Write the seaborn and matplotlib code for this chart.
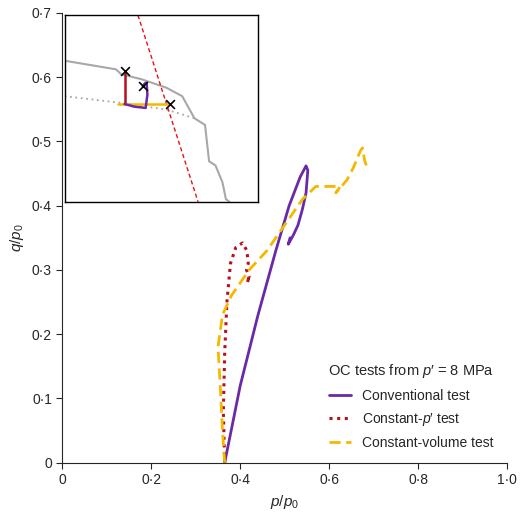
import matplotlib
matplotlib.use("Agg")
import matplotlib.pyplot as plt
import seaborn as sns
import pandas as pd

sns.set_style("ticks")
plt.rcParams['font.family'] = ['Liberation Sans', 'DejaVu Sans']
plt.rcParams['mathtext.fontset'] = 'custom'
plt.rcParams['mathtext.it'] = 'Liberation Sans:italic'
plt.rcParams['mathtext.rm'] = 'Liberation Sans'

conv_p = [0.365,0.40,0.44,0.48,0.51,0.535,0.548,0.552,0.548,0.540,0.530,0.520,0.512,0.508,0.512]
conv_q = [0.0,0.12,0.23,0.33,0.40,0.445,0.462,0.455,0.42,0.395,0.37,0.355,0.345,0.34,0.35]
cp_p = [0.365,0.362,0.365,0.370,0.378,0.390,0.405,0.415,0.418,0.414,0.420,0.416,0.420]
cp_q = [0.0,0.08,0.17,0.25,0.31,0.335,0.342,0.33,0.31,0.30,0.29,0.28,0.29]
cv_p = [0.365,0.360,0.355,0.350,0.360,0.380,0.420,0.460,0.500,0.540,0.570,0.600,0.625,0.615,0.640,0.655,0.670,0.675,0.680,0.685]
cv_q = [0.0,0.05,0.12,0.18,0.23,0.26,0.30,0.33,0.37,0.41,0.43,0.43,0.43,0.42,0.44,0.46,0.485,0.49,0.47,0.46]

# inset (normalised coordinates)
ys_u = [0,0.265,0.292,0.40,0.527,0.608,0.671,0.726,0.747,0.78,0.816,0.834,0.852]
ys_v = [0.756,0.71,0.684,0.656,0.611,0.566,0.448,0.412,0.217,0.195,0.105,0.014,0.0]
yd_u = [0,0.292,0.527,0.671]
yd_v = [0.566,0.53,0.494,0.448]
csl_u = [0.379,0.69]; csl_v = [1.0,0.0]
red_u = [0.31,0.31]; red_v = [0.524,0.70]
yel_u = [0.274,0.545]; yel_v = [0.526,0.526]
pur_u = [0.31,0.36,0.419,0.428,0.424,0.415,0.404]
pur_v = [0.524,0.51,0.503,0.575,0.638,0.635,0.62]
x_u = [0.31,0.404,0.545]; x_v = [0.70,0.62,0.526]

purple = '#6a2aa8'; red = '#b3121b'; yellow = '#f5b800'

fig, ax = plt.subplots(figsize=(5.2,5.17), dpi=100)
fig.subplots_adjust(left=0.12, right=0.975, top=0.975, bottom=0.105)
kw = dict(x='p', y='q', sort=False, estimator=None, ax=ax)
sns.lineplot(data=pd.DataFrame({'p':conv_p,'q':conv_q}), color=purple, lw=2, label='Conventional test', **kw)
sns.lineplot(data=pd.DataFrame({'p':cp_p,'q':cp_q}), color=red, lw=2.2, ls=(0,(1,1.5)), label="Constant-$p$′ test", **kw)
sns.lineplot(data=pd.DataFrame({'p':cv_p,'q':cv_q}), color=yellow, lw=2, ls=(0,(4,2)), label='Constant-volume test', **kw)
ax.set_xlim(0,1.0); ax.set_ylim(0,0.7)
xt = [0,0.2,0.4,0.6,0.8,1.0]; yt = [0,0.1,0.2,0.3,0.4,0.5,0.6,0.7]
ax.set_xticks(xt); ax.set_xticklabels(['0','0·2','0·4','0·6','0·8','1·0'])
ax.set_yticks(yt); ax.set_yticklabels(['0','0·1','0·2','0·3','0·4','0·5','0·6','0·7'])
ax.tick_params(labelsize=10, direction='out', length=4)
ax.set_xlabel('$p/p_0$', fontsize=11); ax.set_ylabel('$q/p_0$', fontsize=11)
ax.legend(title="OC tests from $p$′ = 8 MPa", frameon=False, loc='lower right', fontsize=10, title_fontsize=10.5, handlelength=1.6, labelspacing=0.6, bbox_to_anchor=(1.0,0.0))
sns.despine(ax=ax)

ins = ax.inset_axes([0.005,0.58,0.435,0.415])
ins.plot(ys_u, ys_v, color='#a8a8a8', lw=1.5)
ins.plot(yd_u, yd_v, color='#a8a8a8', lw=1.3, ls=(0,(1,2)))
ins.plot(csl_u, csl_v, color='#e8101a', lw=1, ls=(0,(3,2)))
ins.plot(red_u, red_v, color=red, lw=1.8)
ins.plot(yel_u, yel_v, color=yellow, lw=1.8)
ins.plot(pur_u, pur_v, color=purple, lw=1.8)
ins.scatter(x_u, x_v, marker='x', color='black', s=40, lw=1.2, zorder=5)
ins.set_xlim(0,1); ins.set_ylim(0,1)
ins.set_xticks([]); ins.set_yticks([])
for s in ins.spines.values():
    s.set_visible(True); s.set_color('black'); s.set_linewidth(1)
fig.savefig('out.png', dpi=100)
